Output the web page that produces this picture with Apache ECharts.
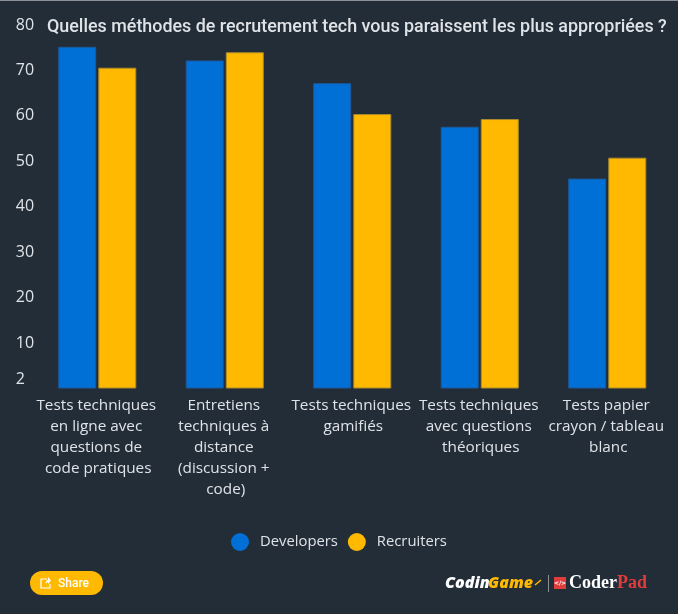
<!DOCTYPE html>
<html>
<head>
<meta charset="utf-8">
<style>html,body{margin:0;padding:0;background:#232d38}#chart{width:678px;height:614px}</style>
<script src="https://cdn.jsdelivr.net/npm/echarts@6/dist/echarts.min.js"></script>
</head>
<body>
<div id="chart"></div>
<script>
var categories = [
  'Tests techniques en ligne avec questions de code pratiques',
  'Entretiens techniques à distance (discussion + code)',
  'Tests techniques gamifiés',
  'Tests techniques avec questions théoriques',
  'Tests papier crayon / tableau blanc'
]
var developers = [75.2, 72.2, 67.2, 57.6, 46.2]
var recruiters = [70.6, 74, 60.4, 59.3, 50.8]
var yTicks = [2, 10, 20, 30, 40, 50, 60, 70, 80]

var chart = echarts.init(document.getElementById('chart'), null, { renderer: 'canvas' })
var textColor = '#dfe3e7'
var font = '"Open Sans"'

function bar(name, data, color, border) {
  return {
    name: name,
    type: 'bar',
    data: data,
    barWidth: 38,
    barGap: '5.5%',
    itemStyle: { color: color, borderColor: border, borderWidth: 1 }
  }
}

chart.setOption({
  backgroundColor: '#232d38',
  animation: false,
  title: {
    text: 'Quelles méthodes de recrutement tech vous paraissent les plus appropriées ?',
    left: 42,
    top: 14,
    textStyle: { color: textColor, fontFamily: 'Roboto', fontSize: 17.9, fontWeight: 500 }
  },
  grid: { left: 33.5, right: 7, top: 25, bottom: 225.5 },
  legend: {
    left: 226,
    top: 528,
    icon: 'circle',
    itemWidth: 18,
    itemHeight: 18,
    itemGap: 10,
    itemStyle: { borderWidth: 0 },
    textStyle: { color: textColor, fontFamily: font, fontSize: 14.8, padding: [0, 0, 0, 6] }
  },
  xAxis: {
    type: 'category',
    data: categories,
    axisLine: { show: false },
    axisTick: { show: false },
    axisLabel: {
      interval: 0,
      width: 127,
      overflow: 'break',
      margin: 7,
      padding: [0, 0, 0, 2],
      lineHeight: 21,
      color: textColor,
      fontFamily: font,
      fontSize: 15.3
    }
  },
  yAxis: {
    type: 'value',
    min: 0,
    max: 80,
    splitLine: { show: false },
    axisLine: { show: false },
    axisTick: { show: false },
    axisLabel: {
      customValues: yTicks,
      margin: 17.75,
      align: 'left',
      padding: [0, 0, 3, 0],
      color: textColor,
      fontFamily: font,
      fontSize: 16
    }
  },
  series: [
    bar('Developers', developers, '#006fd6', '#1c5a9b'),
    bar('Recruiters', recruiters, '#ffb900', '#a98a2a')
  ],
  graphic: [
    { type: 'rect', shape: { x: 0, y: 0, width: 678, height: 1 }, style: { fill: '#8a9096' } },
    { type: 'rect', shape: { x: 30, y: 571, width: 73, height: 24, r: 12 }, style: { fill: '#ffb900' } },
    { type: 'polyline', shape: { points: [[47, 579], [41, 579], [41, 588], [50, 588], [50, 584]] }, style: { fill: null, stroke: '#fff', lineWidth: 1.2 } },
    { type: 'polygon', shape: { points: [[45, 584], [47, 580], [48, 580], [48, 577], [51, 580.5], [48, 584], [48, 582]] }, style: { fill: '#fff' } },
    { type: 'text', x: 58, y: 584, style: { text: 'Share', fill: '#fff', font: '500 12px Roboto', verticalAlign: 'middle' } },
    { type: 'text', x: 445, y: 583, style: { text: 'Codin', fill: '#fff', font: 'italic 900 16px "Noto Sans"', verticalAlign: 'middle' } },
    { type: 'text', x: 488, y: 583, style: { text: 'Game', fill: '#ffb900', font: 'italic 900 16px "Noto Sans"', verticalAlign: 'middle' } },
    { type: 'line', shape: { x1: 535, y1: 585, x2: 541, y2: 580 }, style: { stroke: '#ffb900', lineWidth: 1.5 } },
    { type: 'rect', shape: { x: 548, y: 575, width: 1, height: 17 }, style: { fill: '#8a9096' } },
    { type: 'rect', shape: { x: 554, y: 577, width: 12, height: 12 }, style: { fill: '#e03c3c' } },
    { type: 'text', x: 560, y: 583, style: { text: '</>', fill: '#fff', font: 'bold 6px "DejaVu Sans"', align: 'center', verticalAlign: 'middle' } },
    { type: 'text', x: 569, y: 583, style: { text: 'Coder', fill: '#fff', font: 'bold 18px "Liberation Serif"', verticalAlign: 'middle' } },
    { type: 'text', x: 617, y: 583, style: { text: 'Pad', fill: '#e03c3c', font: 'bold 18px "Liberation Serif"', verticalAlign: 'middle' } }
  ]
})
</script>
</body>
</html>
